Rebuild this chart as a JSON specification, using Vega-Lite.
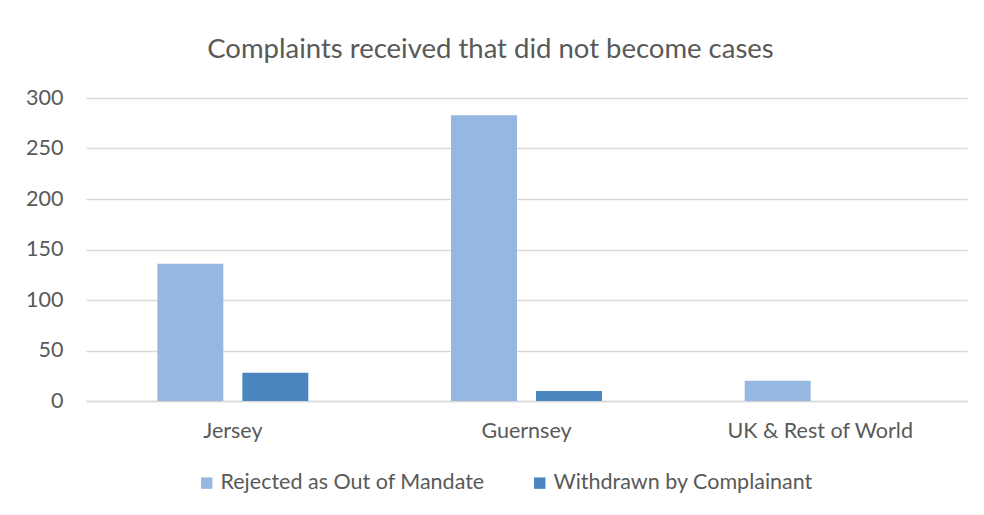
{
  "$schema": "https://vega.github.io/schema/vega-lite/v6.json",
  "autosize": {"type": "none"},
  "padding": {"left": 86, "top": 98, "right": 17, "bottom": 114},
  "width": 881,
  "height": 303,
  "background": "white",
  "title": {
    "text": "Complaints received that did not become cases",
    "fontSize": 27.5,
    "font": "Lato",
    "fontWeight": "normal",
    "color": "#595959",
    "anchor": "middle",
    "dx": -36,
    "offset": 24
  },
  "data": {
    "values": [
      {"region": "Jersey", "type": "Rejected as Out of Mandate", "count": 136},
      {"region": "Jersey", "type": "Withdrawn by Complainant", "count": 28},
      {"region": "Guernsey", "type": "Rejected as Out of Mandate", "count": 283},
      {"region": "Guernsey", "type": "Withdrawn by Complainant", "count": 10},
      {"region": "UK & Rest of World", "type": "Rejected as Out of Mandate", "count": 20},
      {"region": "UK & Rest of World", "type": "Withdrawn by Complainant", "count": 0}
    ]
  },
  "mark": {"type": "bar"},
  "encoding": {
    "x": {
      "field": "region",
      "type": "nominal",
      "sort": ["Jersey", "Guernsey", "UK & Rest of World"],
      "scale": {"paddingInner": 0, "paddingOuter": 0},
      "axis": {
        "title": null,
        "labelAngle": 0,
        "labelFont": "Lato",
        "labelFontSize": 21.5,
        "labelColor": "#595959",
        "labelPadding": 19,
        "labelLimit": 400,
        "ticks": false,
        "domainColor": "#d9d9d9",
        "domainWidth": 1.5,
        "grid": false
      }
    },
    "xOffset": {
      "field": "type",
      "type": "nominal",
      "scale": {"paddingInner": 0.224, "paddingOuter": 0.84}
    },
    "y": {
      "field": "count",
      "type": "quantitative",
      "scale": {"domain": [0, 300]},
      "axis": {
        "title": null,
        "values": [0, 50, 100, 150, 200, 250, 300],
        "labelFont": "Lato",
        "labelFontSize": 21.5,
        "labelColor": "#595959",
        "labelPadding": 23,
        "ticks": false,
        "domain": false,
        "gridColor": "#d9d9d9",
        "gridWidth": 1.5
      }
    },
    "color": {
      "field": "type",
      "type": "nominal",
      "scale": {
        "domain": ["Rejected as Out of Mandate", "Withdrawn by Complainant"],
        "range": ["#95B7E0", "#4A85BF"]
      },
      "legend": {
        "title": null,
        "orient": "none",
        "direction": "horizontal",
        "legendX": 110,
        "legendY": 374,
        "symbolType": "square",
        "symbolSize": 130,
        "symbolStrokeWidth": 0,
        "labelFont": "Lato",
        "labelFontSize": 21.5,
        "labelColor": "#595959",
        "labelOffset": 3,
        "labelLimit": 500,
        "columnPadding": 44
      }
    }
  },
  "config": {
    "view": {"stroke": null}
  }
}
